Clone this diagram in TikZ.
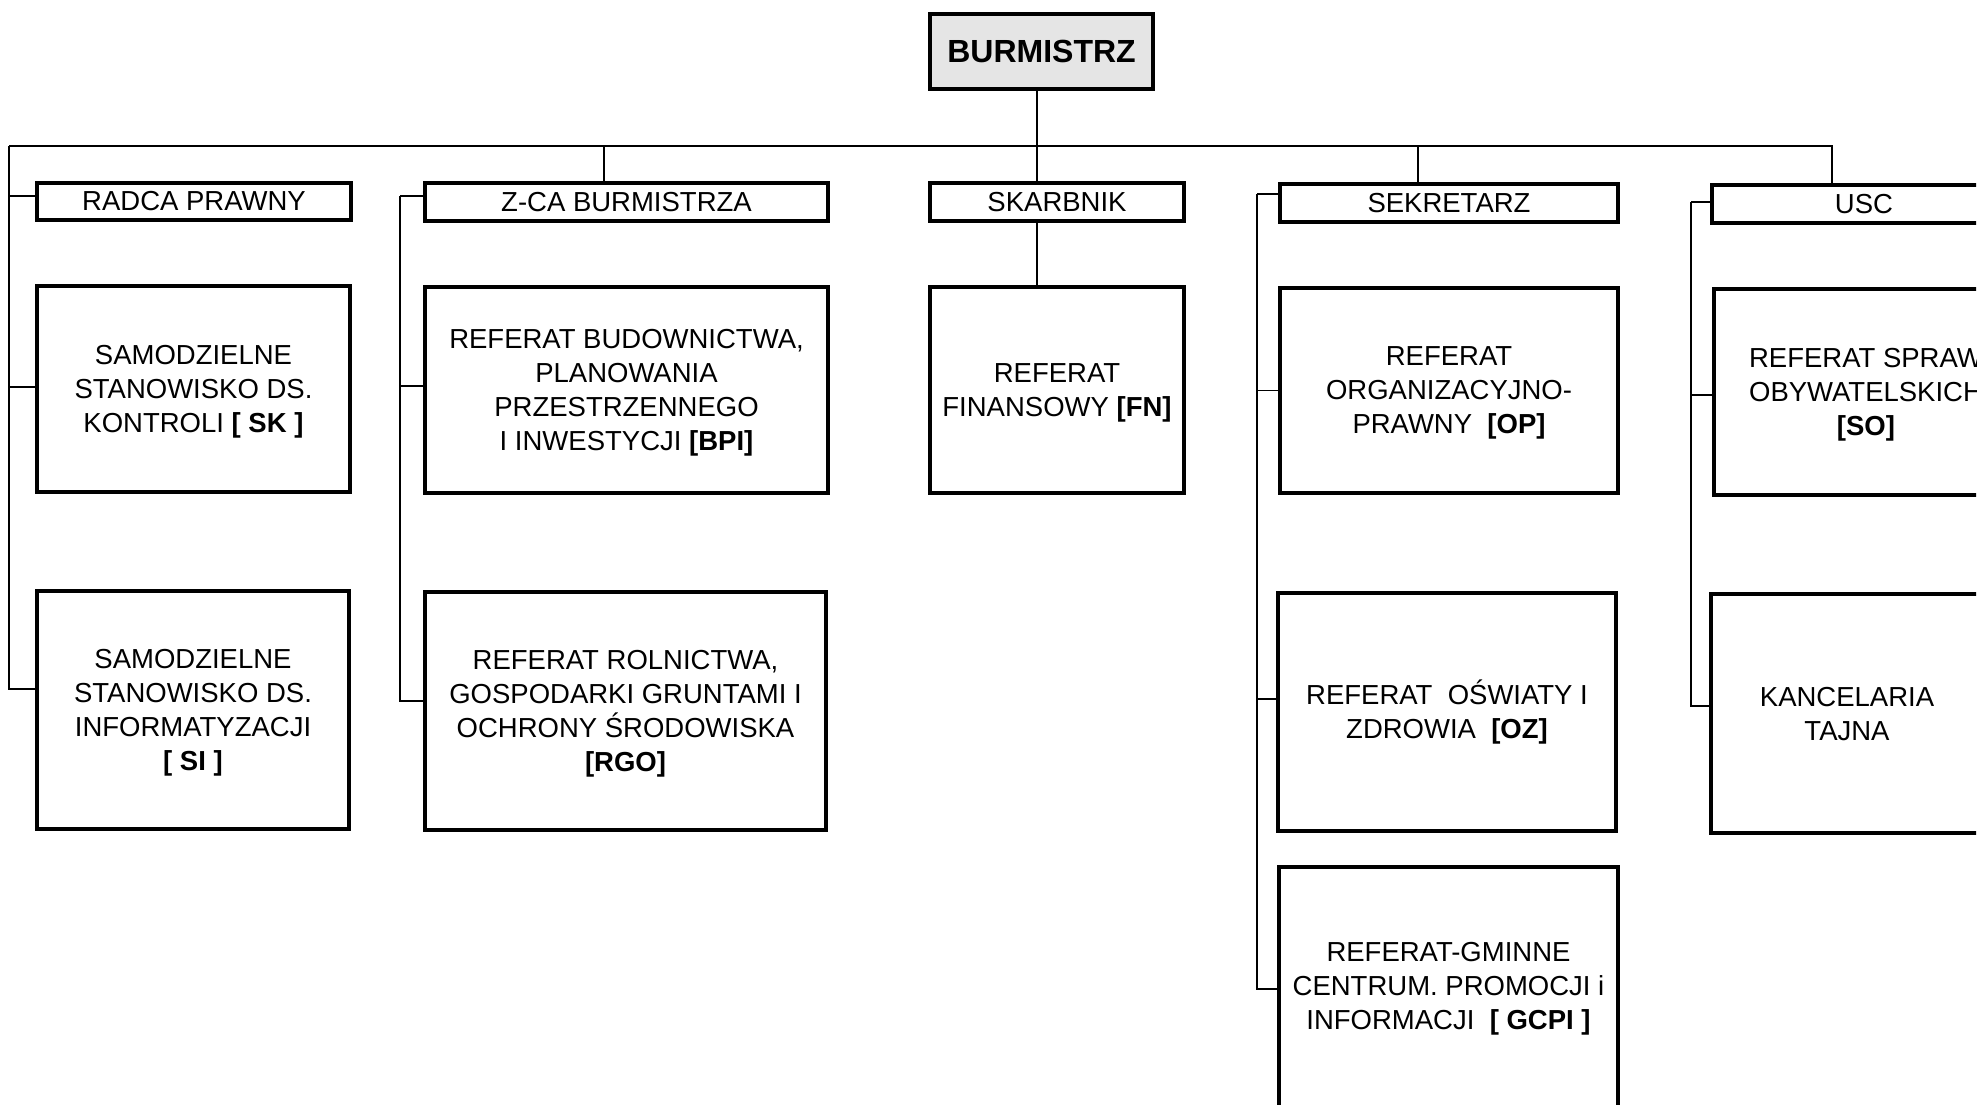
\documentclass[tikz,border=0pt]{standalone}
\usepackage{fontspec}
\setmainfont{Liberation Sans}
\begin{document}
\begin{tikzpicture}[x=1pt,y=-1pt,
  unit/.style={draw, line width=3.3pt, rectangle, inner sep=0pt, outer sep=0pt,
    align=center, font=\fontsize{27.5}{34}\selectfont},
  conn/.style={line width=1.4pt}]
\useasboundingbox (0,0) rectangle (1984,1104);
\fill[white] (0,0) rectangle (1984,1104);
\clip (0,0) rectangle (1976,1104);
% top
\node[unit, line width=3.6pt, fill=black!10, minimum width=223pt, minimum height=75pt,
  font=\fontsize{32}{38}\selectfont\bfseries] (bur) at (1041.5,51.5) {BURMISTRZ};
% headers
\node[unit, minimum width=314pt, minimum height=37pt] (radca) at (194,201.5) {RADCA PRAWNY};
\node[unit, minimum width=403pt, minimum height=38pt] (zca) at (626.5,202) {Z-CA BURMISTRZA};
\node[unit, minimum width=254pt, minimum height=38pt] (skarb) at (1057,202) {SKARBNIK};
\node[unit, minimum width=338pt, minimum height=38pt] (sekr) at (1449,203) {SEKRETARZ};
\node[unit, minimum width=304pt, minimum height=38pt] (usc) at (1864,204) {USC};
% row 1
\node[unit, text depth=-2.2pt, minimum width=313pt, minimum height=206pt] (sk) at (193.5,389)
  {SAMODZIELNE\\STANOWISKO DS.\\KONTROLI \textbf{[ SK ]}};
\node[unit, text depth=0.8pt, minimum width=403pt, minimum height=206pt] (bpi) at (626.5,390)
  {REFERAT BUDOWNICTWA,\\PLANOWANIA\\PRZESTRZENNEGO\\I INWESTYCJI \textbf{[BPI]}};
\node[unit, text depth=-0.2pt, minimum width=254pt, minimum height=206pt] (fn) at (1057,390)
  {REFERAT\\FINANSOWY \textbf{[FN]}};
\node[unit, text depth=-2.2pt, minimum width=338pt, minimum height=205pt] (op) at (1449,390.5)
  {REFERAT\\ORGANIZACYJNO-\\PRAWNY\ \ \textbf{[OP]}};
\node[unit, text depth=0.8pt, minimum width=304pt, minimum height=206pt] (so) at (1866,392)
  {REFERAT SPRAW\\OBYWATELSKICH\\\textbf{[SO]}};
% row 2
\node[unit, text depth=-2.2pt, minimum width=312pt, minimum height=238pt] (si) at (193,710)
  {SAMODZIELNE\\STANOWISKO DS.\\INFORMATYZACJI\\\textbf{[ SI ]}};
\node[unit, text depth=-2.2pt, minimum width=401pt, minimum height=238pt] (rgo) at (625.5,711)
  {REFERAT ROLNICTWA,\\GOSPODARKI GRUNTAMI I\\OCHRONY ŚRODOWISKA\\\textbf{[RGO]}};
\node[unit, minimum width=338pt, minimum height=238pt] (oz) at (1447,712)
  {REFERAT\ \ OŚWIATY I\\ZDROWIA\ \ \textbf{[OZ]}};
\node[unit, text depth=-1.5pt, minimum width=272pt, minimum height=239pt] (kt) at (1847,713.5)
  {KANCELARIA\\TAJNA};
% row 3
\node[unit, text depth=3.2pt, minimum width=339pt, minimum height=241pt] (gcpi) at (1448.5,987.5)
  {REFERAT-GMINNE\\CENTRUM. PROMOCJI i\\INFORMACJI\ \ \textbf{[ GCPI ]}};
% bus
\coordinate (colA) at (9,146);
\coordinate (busR) at (1832,146);
\coordinate (stemB) at (1037,146);
\coordinate (stemZ) at (604,146);
\coordinate (stemS) at (1418,146);
\coordinate (colB) at (400,196);
\coordinate (colS) at (1257,194);
\coordinate (colU) at (1691,202);
\draw[conn] (colA) -- (busR) -- (busR |- usc.north);
\draw[conn] (stemB |- bur.south) -- (stemB |- skarb.north);
\draw[conn] (stemB |- skarb.south) -- (stemB |- fn.north);
\draw[conn] (stemZ) -- (stemZ |- zca.north);
\draw[conn] (stemS) -- (stemS |- sekr.north);
% left column
\draw[conn] (colA) |- ([yshift=5.5pt]radca.west);
\draw[conn] (colA) |- ([yshift=2pt]sk.west);
\draw[conn] (colA) |- ([yshift=21pt]si.west);
% Z-CA column
\draw[conn] (colB) -- (colB -| zca.west);
\draw[conn] (colB) |- ([yshift=4pt]bpi.west);
\draw[conn] (colB) |- ([yshift=10pt]rgo.west);
% SEKRETARZ column
\draw[conn] (colS) -- (colS -| sekr.west);
\draw[conn] (colS) |- (op.west);
\draw[conn] (colS) |- ([yshift=13pt]oz.west);
\draw[conn] (colS) |- ([yshift=-1.5pt]gcpi.west);
% USC column
\draw[conn] (colU) -- (colU -| usc.west);
\draw[conn] (colU) |- ([yshift=-3pt]so.west);
\draw[conn] (colU) |- ([yshift=7.5pt]kt.west);
\end{tikzpicture}
\end{document}
